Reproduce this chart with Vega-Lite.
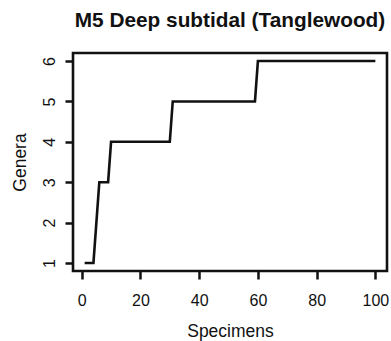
{
  "$schema": "https://vega.github.io/schema/vega-lite/v6.json",
  "width": 314,
  "height": 218,
  "autosize": {"type": "none"},
  "padding": {"left": 73, "top": 53, "right": 4, "bottom": 70},
  "background": "white",
  "title": {
    "text": "M5 Deep subtidal (Tanglewood)",
    "font": "Liberation Sans",
    "fontSize": 20.8,
    "fontWeight": "bold",
    "color": "#111111",
    "anchor": "middle",
    "frame": "group",
    "baseline": "alphabetic",
    "offset": 5.5
  },
  "data": {
    "values": [
      {"specimens": 1, "genera": 1},
      {"specimens": 4, "genera": 1},
      {"specimens": 5, "genera": 2},
      {"specimens": 6, "genera": 3},
      {"specimens": 9, "genera": 3},
      {"specimens": 10, "genera": 4},
      {"specimens": 30, "genera": 4},
      {"specimens": 31, "genera": 5},
      {"specimens": 59, "genera": 5},
      {"specimens": 60, "genera": 6},
      {"specimens": 100, "genera": 6}
    ]
  },
  "mark": {"type": "line", "color": "#111111", "strokeWidth": 2.6, "strokeCap": "butt", "strokeJoin": "miter"},
  "encoding": {
    "x": {
      "field": "specimens",
      "type": "quantitative",
      "scale": {"domain": [-2.96, 103.96], "nice": false, "zero": false},
      "axis": {
        "values": [0, 20, 40, 60, 80, 100],
        "labelBaseline": "alphabetic",
        "labelPadding": 26.7,
        "labelAlign": "center",
        "title": "Specimens",
        "titleX": 157,
        "titleY": 65,
        "titleAlign": "center",
        "titleBaseline": "alphabetic"
      }
    },
    "y": {
      "field": "genera",
      "type": "quantitative",
      "scale": {"domain": [0.8, 6.2], "nice": false, "zero": false},
      "axis": {
        "values": [1, 2, 3, 4, 5, 6],
        "labelAngle": 270,
        "labelAlign": "center",
        "labelBaseline": "alphabetic",
        "labelPadding": 10.7,
        "title": "Genera",
        "titleAngle": 270,
        "titleX": -48,
        "titleY": 109,
        "titleAlign": "center",
        "titleBaseline": "alphabetic"
      }
    }
  },
  "config": {
    "view": {"stroke": "#111111", "strokeWidth": 2.6},
    "axis": {
      "domain": false,
      "grid": false,
      "ticks": true,
      "tickColor": "#111111",
      "tickWidth": 2.5,
      "tickSize": 8,
      "labelFont": "Liberation Sans",
      "labelFontSize": 16,
      "labelColor": "#111111",
      "labelFlush": false,
      "labelOverlap": false,
      "titleFont": "Liberation Sans",
      "titleFontSize": 17.5,
      "titleFontWeight": "normal",
      "titleColor": "#111111"
    }
  }
}
